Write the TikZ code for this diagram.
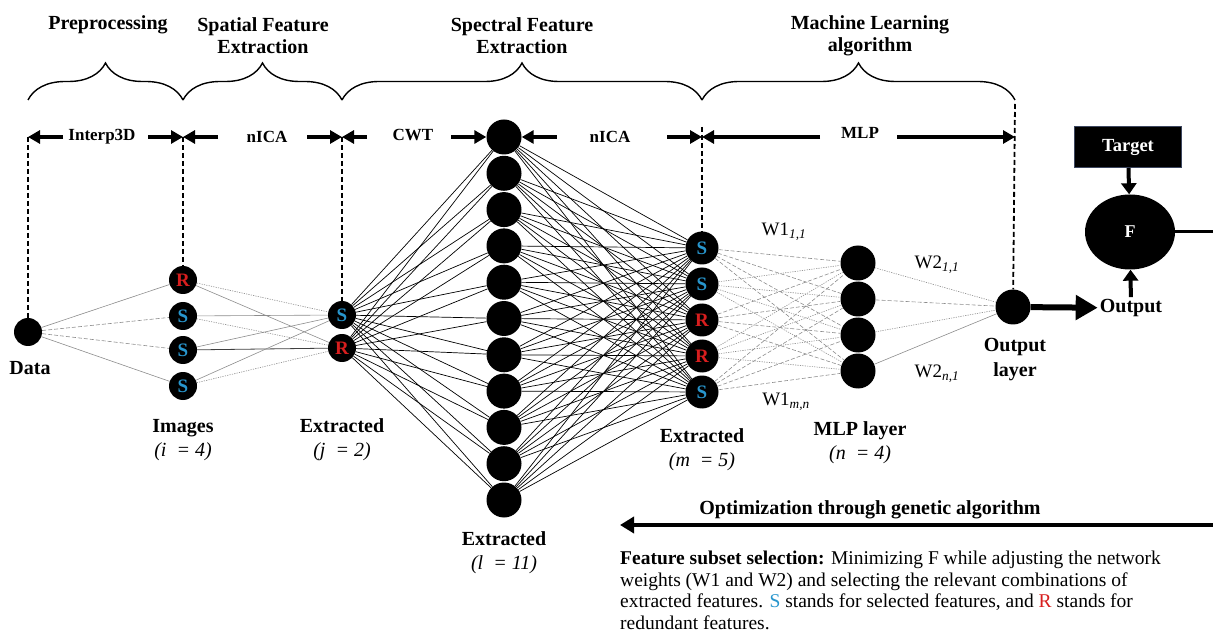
\documentclass[tikz,border=0pt]{standalone}
\usepackage{fontspec}
\setmainfont{Liberation Serif}
\usetikzlibrary{arrows.meta,decorations.pathreplacing,shapes.geometric}
\definecolor{sblue}{RGB}{40,150,205}
\definecolor{rred}{RGB}{215,30,30}
\definecolor{slate}{RGB}{60,70,95}
\newcommand{\hdfont}{\fontsize{20}{22}\selectfont\bfseries}
\newcommand{\dimfont}{\fontsize{17}{19}\selectfont\bfseries}
\tikzset{neuron/.style={circle, fill=black, inner sep=0pt, minimum size=#1, font=\fontsize{19}{19}\selectfont\bfseries},
         neuron/.default=28pt,
         wire/.style={black, line width=0.7pt},
         faint/.style={black!45, line width=0.6pt},
         fdash/.style={faint, dash pattern=on 4pt off 2pt},
         fdot/.style={faint, dash pattern=on 1.2pt off 1.2pt},
         guide/.style={black, line width=1.8pt, dash pattern=on 5pt off 3pt},
         dim/.style={line width=3.5pt, -{Triangle[length=12pt,width=13pt]}},
         fat/.style={line width=4pt, -{Triangle[length=11pt,width=15pt]}},
         brace/.style={decorate, decoration={brace, amplitude=37pt}, line width=1.4pt},
         title/.style={align=center, font=\hdfont},
         lab/.style={align=center, font=\fontsize{20}{24}\selectfont},
         wt/.style={font=\fontsize{19}{21}\selectfont}}

\begin{document}
\begin{tikzpicture}[x=1pt,y=-1pt]
   \useasboundingbox (0,0) rectangle (1213,644);
   % stage titles
   \node[title] (t1) at (108,25) {Preprocessing};
   \node[title] (t2) at (263,36) {Spatial Feature\\Extraction};
   \node[title] (t3) at (522,36) {Spectral Feature\\Extraction};
   \node[title] (t4) at (870,36) {Machine Learning\\algorithm};
   \draw[brace] (28,100) -- (183,100);
   \draw[brace] (183,100) -- (342,100);
   \draw[brace] (342,100) -- (702,100);
   \draw[brace] (702,100) -- (1015,100);

   % layers
   \node[neuron] (d) at (28,332) {};
   \node[neuron,text=rred]  (i1) at (183,280) {R};
   \node[neuron,text=sblue] (i2) at (183,316) {S};
   \node[neuron,text=sblue] (i3) at (183,350) {S};
   \node[neuron,text=sblue] (i4) at (183,386) {S};
   \node[neuron,text=sblue] (j1) at (342,315) {S};
   \node[neuron,text=rred]  (j2) at (342,348) {R};
   \foreach \k in {1,...,11}
     \node[neuron=35pt] (l\k) at (504,137+36.3*\k-36.3) {};
   \node[neuron=33pt,text=sblue] (m1) at (702,248) {S};
   \node[neuron=33pt,text=sblue] (m2) at (702,284) {S};
   \node[neuron=33pt,text=rred]  (m3) at (702,320) {R};
   \node[neuron=33pt,text=rred]  (m4) at (702,356) {R};
   \node[neuron=33pt,text=sblue] (m5) at (702,392) {S};
   \node[neuron=35pt] (n1) at (858,263) {};
   \node[neuron=35pt] (n2) at (858,299) {};
   \node[neuron=35pt] (n3) at (858,335) {};
   \node[neuron=35pt] (n4) at (858,371) {};
   \node[neuron=35pt] (o) at (1013,307) {};

   % connections
   \draw[faint] (d) -- (i1);
   \draw[fdash] (d) -- (i2);
   \draw[fdash] (d) -- (i3);
   \draw[faint] (d) -- (i4);
   \draw[fdot]  (i1) -- (j1);
   \draw[faint] (i1) -- (j2);
   \draw[faint] (i2) -- (j1);
   \draw[fdot]  (i2) -- (j2);
   \draw[faint] (i3) -- (j1);
   \draw[black!75, line width=0.8pt] (i3) -- (j2);
   \draw[faint] (i4) -- (j1);
   \draw[fdot]  (i4) -- (j2);
   \foreach \a in {1,2}
     \foreach \b in {1,...,11}
       \draw[wire] (j\a) -- (l\b);
   \foreach \a in {1,...,11}
     \foreach \b in {1,...,5}
       \draw[wire] (l\a) -- (m\b);
   \foreach \a/\s in {1/fdash,2/fdot,3/fdash,4/fdot,5/fdash}
     \foreach \b in {1,...,4}
       \draw[\s] (m\a) -- (n\b);
   \draw[fdot]  (n1) -- (o);
   \draw[fdash] (n2) -- (o);
   \draw[fdot]  (n3) -- (o);
   \draw[faint] (n4) -- (o);

   % guides and step arrows
   \coordinate (g1) at (28,137);
   \coordinate (g2) at (183,137);
   \coordinate (g3) at (342,137);
   \coordinate (g4) at (702,137);
   \coordinate (g5) at (1015,137);
   \coordinate (h4) at (702,127);
   \coordinate (h5) at (1015,104);
   \draw[guide] (g1) -- (d);
   \draw[guide] (g2) -- (i1);
   \draw[guide] (g3) -- (j1);
   \draw[guide] (h4) -- (m1);
   \draw[guide] (h5) -- (o);
   \node[font=\dimfont] (s1) at (102,137) {Interp3D};
   \node[font=\dimfont] (s2) at (267,137) {nICA};
   \node[font=\dimfont] (s3) at (413,135) {CWT};
   \node[font=\dimfont] (s4) at (610,137) {nICA};
   \node[font=\dimfont] (s5) at (860,133) {MLP};
   \draw[dim] ([xshift=35]g1) -- (g1);
   \draw[dim] ([xshift=-35]g2) -- (g2);
   \draw[dim] ([xshift=35]g2) -- (g2);
   \draw[dim] ([xshift=-35]g3) -- (g3);
   \draw[dim] ([xshift=25]g3) -- (g3);
   \draw[dim] ([xshift=-35]l1.west) -- (l1.west);
   \draw[dim] ([xshift=35]l1.east) -- (l1.east);
   \draw[dim] ([xshift=-35]g4) -- (g4);
   \draw[dim] ([xshift=118]g4) -- (g4);
   \draw[dim] ([xshift=-118]g5) -- (g5);

   % layer labels
   \node[lab,font=\fontsize{20}{24}\selectfont\bfseries] (dl) at (30,368) {Data};
   \node[lab] (il) at (183,440) {\textbf{Images}\\\textit{(i\ \ = 4)}};
   \node[lab] (jl) at (342,440) {\textbf{Extracted}\\\textit{(j\ \ = 2)}};
   \node[lab] (ll) at (504,553) {\textbf{Extracted}\\\textit{(l\ \ = 11)}};
   \node[lab] (ml) at (702,450) {\textbf{Extracted}\\\textit{(m\ \ = 5)}};
   \node[lab] (nl) at (860,443) {\textbf{MLP layer}\\\textit{(n\ \ = 4)}};
   \node[lab,font=\fontsize{20}{25}\selectfont\bfseries] (ol) at (1015,360) {Output\\layer};
   \node[wt] (w1a) at (784,232) {W1\textsubscript{\itshape 1,1}};
   \node[wt] (w1b) at (786,402) {W1\textsubscript{\itshape m,n}};
   \node[wt] (w2a) at (937,265) {W2\textsubscript{\itshape 1,1}};
   \node[wt] (w2b) at (937,374) {W2\textsubscript{\itshape n,1}};

   % objective
   \node[fill=black, draw=slate, line width=1pt, minimum width=107, minimum height=41,
         text=white, font=\fontsize{18.5}{20}\selectfont\bfseries] (tgt) at (1128,147) {Target};
   \node[ellipse, fill=black, minimum width=90, minimum height=75, inner sep=0pt,
         text=white, font=\fontsize{18}{18}\selectfont\bfseries] (f) at (1130,232) {F};
   \node[font=\fontsize{20}{22}\selectfont\bfseries, inner sep=2pt] (out) at (1131,308) {Output};
   \draw[line width=6pt, -{Triangle[length=22pt,width=24pt]}] (o) -- (out);
   \draw[fat] (tgt) -- (f);
   \draw[fat] (out) -- (f);
   \coordinate (e1) at (1213,232);
   \coordinate (e2) at (1213,525);
   \coordinate (e3) at (620,525);
   \draw[line width=3pt] (f) -- (e1);
   \draw[line width=3.5pt, -{Triangle[length=14pt,width=16pt]}] (e2) -- (e3);
   \node[font=\fontsize{20}{22}\selectfont\bfseries] (opt) at (870,510) {Optimization through genetic algorithm};
   \node[anchor=north west, inner sep=0pt, align=left, font=\fontsize{19.5}{21.5}\selectfont] (note) at (620,551)
     {\textbf{Feature subset selection:} Minimizing F while adjusting the network\\
      weights (W1 and W2) and selecting the relevant combinations of\\
      extracted features. {\color{sblue}S} stands for selected features, and {\color{rred}R} stands for\\
      redundant features.};
\end{tikzpicture}
\end{document}
